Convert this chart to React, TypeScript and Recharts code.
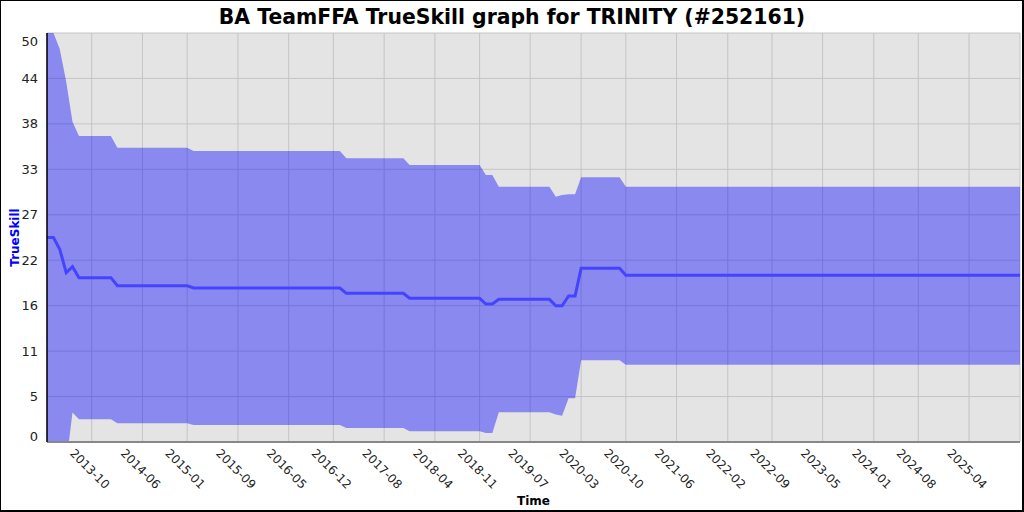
import { ComposedChart, Area, Line, XAxis, YAxis, CartesianGrid, Label } from 'recharts';

// monthly change points (YYYY-MM), mean and the mu ± 3 sigma band
const months = [
  '2013-03', '2013-04', '2013-05', '2013-06', '2013-07', '2013-08', '2014-01', '2014-02',
  '2015-01', '2015-02', '2017-01', '2017-02', '2017-11', '2017-12', '2018-11', '2018-12',
  '2019-01', '2019-02', '2019-10', '2019-11', '2019-12', '2020-01', '2020-02', '2020-03',
  '2020-09', '2020-10', '2025-12',
];
const mean = [
  25.0, 25.0, 23.56, 20.7, 21.43, 20.09, 20.09, 19.1,
  19.1, 18.83, 18.83, 18.18, 18.18, 17.57, 17.57, 16.87,
  16.87, 17.44, 17.44, 16.66, 16.66, 17.85, 17.85, 21.23,
  21.23, 20.38, 20.38,
];
const lower = [
  0.0, 0.0, -0.92, -2.65, 3.6, 2.77, 2.77, 2.3,
  2.3, 2.08, 2.08, 1.7, 1.7, 1.3, 1.3, 1.1,
  1.1, 3.65, 3.65, 3.36, 3.2, 5.35, 5.35, 10.0,
  10.0, 9.45, 9.45,
];
const upper = [
  50.0, 50.0, 48.04, 44.05, 39.16, 37.41, 37.41, 35.98,
  35.98, 35.57, 35.57, 34.68, 34.68, 33.86, 33.86, 32.64,
  32.64, 31.21, 31.21, 29.99, 30.2, 30.3, 30.3, 32.36,
  32.36, 31.21, 31.21,
];

const xTickMonths = [
  '2013-10', '2014-06', '2015-01', '2015-09', '2016-05', '2016-12', '2017-08', '2018-04',
  '2018-11', '2019-07', '2020-03', '2020-10', '2021-06', '2022-02', '2022-09', '2023-05',
  '2024-01', '2024-08', '2025-04',
];
const yTicks = [0, 5.556, 11.111, 16.667, 22.222, 27.778, 33.333, 38.889, 44.444, 50];
const yTickLabels = ['0', '5', '11', '16', '22', '27', '33', '38', '44', '50'];

const toTime = (ym: string) => {
  const [y, m] = ym.split('-').map(Number);
  return Date.UTC(y, m - 1, 1);
};

const data = months.map((m, i) => ({
  t: toTime(m),
  mean: mean[i],
  band: [lower[i], upper[i]],
}));

const fmtMonth = (t: number) => {
  const d = new Date(t);
  return `${d.getUTCFullYear()}-${String(d.getUTCMonth() + 1).padStart(2, '0')}`;
};

const font = 'DejaVu Sans';

function XTick(props: any) {
  const { x, y, payload } = props;
  const cx = x - 2;
  const cy = y + 19;
  return (
    <text
      x={cx}
      y={cy}
      transform={`rotate(45 ${cx} ${cy})`}
      textAnchor="middle"
      dominantBaseline="central"
      fontFamily={font}
      fontSize={12}
      fill="#222"
    >
      {fmtMonth(payload.value)}
    </text>
  );
}

function YTick(props: any) {
  const { x, y, index } = props;
  let yy = y;
  if (index === 0) yy = y - 6;
  if (index === yTicks.length - 1) yy = y + 8;
  return (
    <text x={x - 1} y={yy} textAnchor="end" dominantBaseline="central" fontFamily={font} fontSize={13} fill="#222">
      {yTickLabels[index]}
    </text>
  );
}

export default function App() {
  return (
    <div
      style={{
        position: 'absolute',
        left: 0,
        top: 0,
        width: 1024,
        height: 512,
        boxSizing: 'border-box',
        border: '1px solid #000',
        borderRightWidth: 2,
        borderBottomWidth: 2,
        background: '#fff',
        fontFamily: font,
      }}
    >
      <div
        style={{
          position: 'absolute',
          left: 0,
          top: 4,
          width: 1022,
          textAlign: 'center',
          fontWeight: 'bold',
          fontSize: 20.4,
          fontFamily: font,
        }}
      >
        BA TeamFFA TrueSkill graph for TRINITY (#252161)
      </div>
      <div style={{ position: 'absolute', left: -1, top: -1 }}>
        <ComposedChart width={1024} height={512} data={data} margin={{ top: 33, right: 4, left: 0, bottom: 0 }}>
          <CartesianGrid fill="#e4e4e4" stroke="#c4c4c4" strokeWidth={1} />
          <XAxis
            dataKey="t"
            type="number"
            scale="time"
            domain={['dataMin', 'dataMax']}
            ticks={xTickMonths.map(toTime)}
            tick={<XTick />}
            tickLine={false}
            axisLine={{ stroke: '#888', strokeWidth: 2 }}
            height={70}
            interval={0}
          >
            <Label value="Time" position="insideBottom" offset={7} fontFamily={font} fontWeight="bold" fontSize={12} fill="#000" />
          </XAxis>
          <YAxis
            type="number"
            domain={[0, 50]}
            allowDataOverflow
            ticks={yTicks}
            tick={<YTick />}
            tickLine={false}
            axisLine={{ stroke: '#000', strokeWidth: 1.5 }}
            width={47}
            interval={0}
          >
            <Label
              value="TrueSkill"
              angle={-90}
              position="insideLeft"
              offset={15}
              fontFamily={font}
              fontWeight="bold"
              fontSize={12}
              fill="#0000ff"
              style={{ textAnchor: 'middle' }}
            />
          </YAxis>
          <Area
            dataKey="band"
            type="linear"
            stroke="none"
            fill="#0000ff"
            fillOpacity={0.4}
            isAnimationActive={false}
            activeDot={false}
          />
          <Line
            dataKey="mean"
            type="linear"
            stroke="#4444ff"
            strokeWidth={3}
            dot={false}
            activeDot={false}
            isAnimationActive={false}
          />
        </ComposedChart>
      </div>
    </div>
  );
}
